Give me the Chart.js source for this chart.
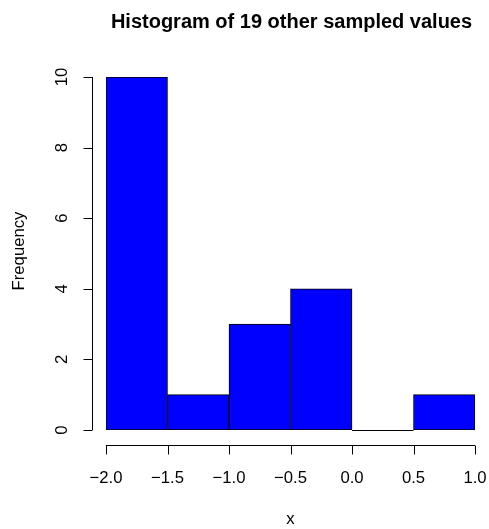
<!DOCTYPE html>
<html>
<head>
<meta charset="utf-8">
<script src="https://cdn.jsdelivr.net/npm/chart.js@4/dist/chart.umd.min.js"></script>
<style>
  html, body { margin: 0; padding: 0; background: #fff; }
  #wrap { width: 489px; height: 529px; }
</style>
</head>
<body>
<div id="wrap"><canvas id="histChart" width="489" height="529"></canvas></div>
<script>
// ヒストグラムのデータ
const binCenters = [-1.75, -1.25, -0.75, -0.25, 0.25, 0.75];
const counts = [10, 1, 3, 4, 0, 1];
const xTicks = [-2, -1.5, -1, -0.5, 0, 0.5, 1];
const yTicks = [0, 2, 4, 6, 8, 10];
const titleText = 'Histogram of 19 other sampled values';
const xLabel = 'x';
const yLabel = 'Frequency';

const FONT = '"Liberation Sans", Arial, Helvetica, sans-serif';
const LABEL_SIZE = 16.7;

function fmt(v) {
  return v.toFixed(1).replace('-', '\u2212');
}

// R風の軸を描くプラグイン
const rAxes = {
  id: 'rAxes',
  afterDatasetsDraw(chart) {
    // 高さ0のビンは底辺だけ線を引く
    const ctx = chart.ctx;
    const meta = chart.getDatasetMeta(0);
    ctx.save();
    ctx.strokeStyle = '#000';
    ctx.lineWidth = 1;
    meta.data.forEach((bar, i) => {
      if (counts[i] === 0) {
        const half = bar.width / 2;
        const py = Math.round(bar.base) + 0.5;
        ctx.beginPath();
        ctx.moveTo(bar.x - half, py);
        ctx.lineTo(bar.x + half, py);
        ctx.stroke();
      }
    });
    ctx.restore();
  },
  afterDraw(chart) {
    const ctx = chart.ctx;
    const xs = chart.scales.x;
    const ys = chart.scales.y;
    ctx.save();
    ctx.strokeStyle = '#000';
    ctx.fillStyle = '#000';
    ctx.lineWidth = 1;

    // x軸
    const axY = 445.5;
    ctx.beginPath();
    ctx.moveTo(xs.getPixelForValue(xTicks[0]), axY);
    ctx.lineTo(xs.getPixelForValue(xTicks[xTicks.length - 1]), axY);
    xTicks.forEach(t => {
      const px = Math.round(xs.getPixelForValue(t)) + 0.5;
      ctx.moveTo(px, axY);
      ctx.lineTo(px, axY + 9);
    });
    ctx.stroke();
    ctx.font = LABEL_SIZE + 'px ' + FONT;
    ctx.textAlign = 'center';
    ctx.textBaseline = 'middle';
    xTicks.forEach(t => {
      ctx.fillText(fmt(t), xs.getPixelForValue(t), 478.5);
    });

    // y軸
    const axX = 92.5;
    ctx.beginPath();
    ctx.moveTo(axX, ys.getPixelForValue(yTicks[0]));
    ctx.lineTo(axX, ys.getPixelForValue(yTicks[yTicks.length - 1]));
    yTicks.forEach(t => {
      const py = Math.round(ys.getPixelForValue(t)) + 0.5;
      ctx.moveTo(axX, py);
      ctx.lineTo(axX - 9, py);
    });
    ctx.stroke();
    yTicks.forEach(t => {
      ctx.save();
      ctx.translate(62, ys.getPixelForValue(t));
      ctx.rotate(-Math.PI / 2);
      ctx.fillText(String(t), 0, 0);
      ctx.restore();
    });

    // タイトルと軸ラベル
    const midX = (xs.left + xs.right) / 2;
    ctx.font = 'bold 20px ' + FONT;
    ctx.textBaseline = 'alphabetic';
    ctx.fillText(titleText, midX + 1, 28);
    ctx.font = LABEL_SIZE + 'px ' + FONT;
    ctx.textBaseline = 'middle';
    ctx.fillText(xLabel, midX, 519.5);
    ctx.save();
    ctx.translate(19, 251);
    ctx.rotate(-Math.PI / 2);
    ctx.fillText(yLabel, 0, 0);
    ctx.restore();
    ctx.restore();
  }
};

let histConfig = {
  type: 'bar',
  data: {
    datasets: [{
      data: binCenters.map((c, i) => ({ x: c, y: counts[i] })),
      backgroundColor: '#0000FF',
      borderColor: '#000000',
      borderWidth: 1,
      borderSkipped: false,
      barPercentage: 1.0,
      categoryPercentage: 1.0
    }]
  },
  options: {
    responsive: false,
    animation: false,
    plugins: {
      legend: { display: false },
      tooltip: { enabled: false }
    },
    scales: {
      x: { type: 'linear', min: -2, max: 1, display: false, offset: false },
      y: { min: 0, max: 10, display: false }
    },
    layout: {
      padding: { left: 106, right: 14, top: 77, bottom: 99 }
    }
  },
  plugins: [rAxes]
};

let histChart = new Chart(document.getElementById('histChart'), histConfig);
</script>
</body>
</html>
